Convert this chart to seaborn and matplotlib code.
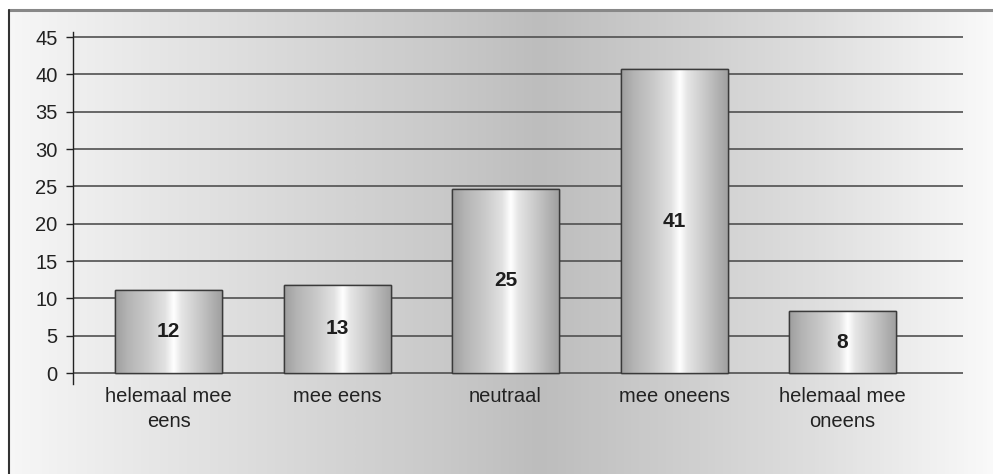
import numpy as np
import pandas as pd
import matplotlib
matplotlib.use('Agg')
import matplotlib.pyplot as plt
from matplotlib.colors import LinearSegmentedColormap
import seaborn as sns

# data
categories = ['helemaal mee\neens', 'mee eens', 'neutraal', 'mee oneens', 'helemaal mee\noneens']
heights = [11.1, 11.8, 24.7, 40.7, 8.3]
labels = ['12', '13', '25', '41', '8']
yticks = [0, 5, 10, 15, 20, 25, 30, 35, 40, 45]

sns.set_theme(style='white')
plt.rcParams['font.family'] = ['Liberation Sans', 'DejaVu Sans']

W, H = 993, 474
fig = plt.figure(figsize=(W / 100, H / 100), dpi=100)
fig.patch.set_facecolor('white')

# background panel with horizontal grey gradient
bg = fig.add_axes([9 / W, 0, 1 - 9 / W, (H - 10) / H])
bg_cmap = LinearSegmentedColormap.from_list('bg', [
    (0.0, '#f6f6f6'), (0.15, '#e6e6e6'), (0.45, '#c8c8c8'), (0.54, '#bdbdbd'),
    (0.66, '#cbcbcb'), (0.82, '#dedede'), (1.0, '#f9f9f9')])
bg.imshow(np.linspace(0, 1, 256)[None, :], aspect='auto', cmap=bg_cmap,
          extent=[0, 1, 0, 1], interpolation='bicubic')
bg.set_xlim(0, 1)
bg.set_ylim(0, 1)
bg.axis('off')
bg.plot([0, 1], [1, 1], color='#888888', lw=2.2, transform=bg.transAxes, clip_on=False)
bg.plot([0, 0], [0, 1], color='#333333', lw=1.5, transform=bg.transAxes, clip_on=False)

# main axes
ax = fig.add_axes([73 / W, (H - 384) / H, (963 - 73) / W, (384 - 32) / H])
ax.patch.set_alpha(0)

df = pd.DataFrame({'cat': categories, 'val': heights})
sns.barplot(data=df, x='cat', y='val', ax=ax, width=0.635, color='#cccccc',
            edgecolor='#3a3a3a', linewidth=1.0, zorder=3)

bar_cmap = LinearSegmentedColormap.from_list('bar', [
    (0.0, '#9e9e9e'), (0.12, '#b4b4b4'), (0.3, '#c9c9c9'), (0.47, '#e2e2e2'),
    (0.55, '#ffffff'), (0.62, '#e6e6e6'), (0.8, '#c6c6c6'), (1.0, '#a0a0a0')])
grad = np.linspace(0, 1, 256)[None, :]
for patch, lab in zip(ax.patches, labels):
    x0, y0 = patch.get_x(), patch.get_y()
    w, h = patch.get_width(), patch.get_height()
    im = ax.imshow(grad, aspect='auto', cmap=bar_cmap, extent=[x0, x0 + w, y0, y0 + h],
                   zorder=3.5, interpolation='bicubic')
    im.set_clip_path(patch)
    ax.add_patch(plt.Rectangle((x0, y0), w, h, fill=False, edgecolor='#3a3a3a',
                               lw=1.0, zorder=4))
    ax.text(x0 + w / 2, y0 + h / 2, lab, ha='center', va='center', fontsize=15,
            fontweight='bold', color='#1e1e1e', zorder=5)

ax.set_xlim(-0.567, 4.715)
ax.set_ylim(-1.47, 45.67)
ax.set_yticks(yticks)
ax.set_yticklabels([str(t) for t in yticks], fontsize=14.5, color='#222222')
ax.yaxis.grid(True, color='#505050', lw=1.2, zorder=1)
ax.set_axisbelow(True)
ax.tick_params(axis='y', left=True, length=5, width=1, color='#222222', pad=6)
ax.tick_params(axis='x', bottom=False)
ax.set_xticks(range(len(categories)))
ax.set_xticklabels(categories, fontsize=14.5, color='#222222', linespacing=1.4)
ax.set_xlabel('')
ax.set_ylabel('')
for s in ['top', 'right', 'bottom']:
    ax.spines[s].set_visible(False)
ax.spines['left'].set_color('#222222')
ax.spines['left'].set_linewidth(1.0)
ax.xaxis.set_tick_params(pad=-4)

fig.savefig('out.png', dpi=100)
